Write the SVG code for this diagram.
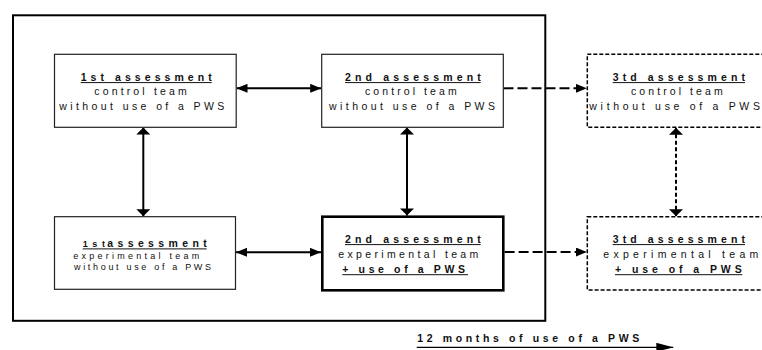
<svg xmlns="http://www.w3.org/2000/svg" width="762" height="350" viewBox="0 0 762 350">
  <style>
    text { font-family: "Liberation Sans", Arial, sans-serif; fill: #111; }
    .t { font-size: 10.5px; }
    .s { font-size: 9px; }
    .b { font-weight: bold; }
    .ul { stroke: #111; stroke-width: 1; }
    .box { fill: #fff; stroke: #222; stroke-width: 1.2; }
    .box-strong { fill: #fff; stroke: #000; stroke-width: 2.6; }
    .box-dashed { fill: #fff; stroke: #000; stroke-width: 1.5; stroke-dasharray: 4 2; }
    .frame { fill: none; stroke: #000; stroke-width: 2; }
    .link { fill: none; stroke: #000; stroke-width: 2; }
    .link-dash { fill: none; stroke: #000; stroke-width: 2; stroke-dasharray: 10 4; }
    .link-dot { fill: none; stroke: #000; stroke-width: 2; stroke-dasharray: 4 2.5; }
    .timeline { fill: none; stroke: #000; stroke-width: 1.3; }
  </style>
  <defs>
    <marker id="ah" markerUnits="userSpaceOnUse" markerWidth="11" markerHeight="9" refX="11" refY="4.5" orient="auto-start-reverse">
      <path d="M0,0 L11,4.5 L0,9 z" fill="#000"/>
    </marker>
    <marker id="av" markerUnits="userSpaceOnUse" markerWidth="7" markerHeight="14" refX="7" refY="7" orient="auto-start-reverse">
      <path d="M0,0 L7,7 L0,14 z" fill="#000"/>
    </marker>
    <marker id="at" markerUnits="userSpaceOnUse" markerWidth="17" markerHeight="9" refX="17" refY="4.5" orient="auto">
      <path d="M0,0 L17,4.5 L0,9 z" fill="#000"/>
    </marker>
  </defs>

  <!-- study period frame -->
  <rect class="frame" x="13" y="15.3" width="532.3" height="305.5"/>

  <!-- connectors -->
  <g id="connectors">
    <line class="link" x1="236.5" y1="88.3" x2="321.2" y2="88.3" marker-start="url(#ah)" marker-end="url(#ah)"/>
    <line class="link" x1="236" y1="252.3" x2="321" y2="252.3" marker-start="url(#ah)" marker-end="url(#ah)"/>
    <line class="link" x1="143.3" y1="127.5" x2="143.3" y2="216.2" marker-start="url(#av)" marker-end="url(#av)"/>
    <line class="link" x1="407" y1="127.5" x2="407" y2="215.4" marker-start="url(#av)" marker-end="url(#av)"/>
    <line class="link-dash" x1="503.5" y1="88.3" x2="586.8" y2="88.3" marker-end="url(#ah)"/>
    <line class="link-dash" x1="504.6" y1="252" x2="586.8" y2="252" marker-end="url(#ah)"/>
    <line class="link-dot" x1="676" y1="127.8" x2="676" y2="216.2" marker-start="url(#av)" marker-end="url(#av)"/>
  </g>

  <!-- control team, 1st assessment -->
  <g id="c1">
    <rect class="box" x="54.5" y="54.3" width="181.7" height="73"/>
    <text class="t b" x="80.7" y="80.7" textLength="131" lengthAdjust="spacing">1st assessment</text>
    <line class="ul" x1="80.7" y1="82.6" x2="211.7" y2="82.6"/>
    <text class="t" x="94.3" y="95.3" textLength="92.4" lengthAdjust="spacing">control team</text>
    <text class="t" x="59.3" y="110" textLength="165" lengthAdjust="spacing">without use of a PWS</text>
  </g>

  <!-- control team, 2nd assessment -->
  <g id="c2">
    <rect class="box" x="321.7" y="54.3" width="181.6" height="73"/>
    <text class="t b" x="345" y="80.7" textLength="135.7" lengthAdjust="spacing">2nd assessment</text>
    <line class="ul" x1="345" y1="82.6" x2="480.7" y2="82.6"/>
    <text class="t" x="365" y="95.3" textLength="91.7" lengthAdjust="spacing">control team</text>
    <text class="t" x="329" y="110" textLength="166" lengthAdjust="spacing">without use of a PWS</text>
  </g>

  <!-- control team, 3rd assessment -->
  <g id="c3">
    <rect class="box-dashed" x="587.3" y="54.3" width="182" height="73"/>
    <text class="t b" x="612.7" y="80.7" textLength="132.3" lengthAdjust="spacing">3td assessment</text>
    <line class="ul" x1="612.7" y1="82.6" x2="745" y2="82.6"/>
    <text class="t" x="631" y="95.3" textLength="91.7" lengthAdjust="spacing">control team</text>
    <text class="t" x="589.3" y="110" textLength="170.7" lengthAdjust="spacing">without use of a PWS</text>
  </g>

  <!-- experimental team, 1st assessment -->
  <g id="e1">
    <rect class="box" x="54.5" y="216.7" width="181" height="72.6"/>
    <text x="82.7" y="247"><tspan class="s b" textLength="22.3" lengthAdjust="spacing">1st</tspan><tspan class="t b" x="107.3" textLength="99.4" lengthAdjust="spacing">assessment</tspan></text>
    <line class="ul" x1="82.7" y1="248.9" x2="206.7" y2="248.9"/>
    <text class="s" x="73.3" y="258.7" textLength="126" lengthAdjust="spacing">experimental team</text>
    <text class="s" x="74" y="270.3" textLength="137" lengthAdjust="spacing">without use of a PWS</text>
  </g>

  <!-- experimental team, 2nd assessment -->
  <g id="e2">
    <rect class="box-strong" x="322.3" y="216.7" width="181" height="73.6"/>
    <text class="t b" x="345" y="242.7" textLength="135.7" lengthAdjust="spacing">2nd assessment</text>
    <line class="ul" x1="345" y1="244.6" x2="480.7" y2="244.6"/>
    <text class="t" x="338.3" y="258" textLength="140" lengthAdjust="spacing">experimental team</text>
    <text class="t b" x="342.3" y="272.7" textLength="122.7" lengthAdjust="spacing">+ use of a PWS</text>
    <line class="ul" x1="342.3" y1="274.7" x2="468" y2="274.7"/>
  </g>

  <!-- experimental team, 3rd assessment -->
  <g id="e3">
    <rect class="box-dashed" x="587.3" y="216.7" width="182" height="73.3"/>
    <text class="t b" x="612.7" y="242.7" textLength="132.3" lengthAdjust="spacing">3td assessment</text>
    <line class="ul" x1="612.7" y1="244.6" x2="745" y2="244.6"/>
    <text class="t" x="603.3" y="258" textLength="155" lengthAdjust="spacing">experimental team</text>
    <text class="t b" x="615" y="272.7" textLength="126.7" lengthAdjust="spacing">+ use of a PWS</text>
    <line class="ul" x1="615" y1="274.7" x2="742.3" y2="274.7"/>
  </g>

  <!-- time axis -->
  <g id="timeline">
    <text class="b" font-size="10.5" x="417.3" y="342.3" textLength="222" lengthAdjust="spacing">12 months of use of a PWS</text>
    <line class="timeline" x1="416.7" y1="347.3" x2="673.3" y2="347.3" marker-end="url(#at)"/>
  </g>
</svg>
